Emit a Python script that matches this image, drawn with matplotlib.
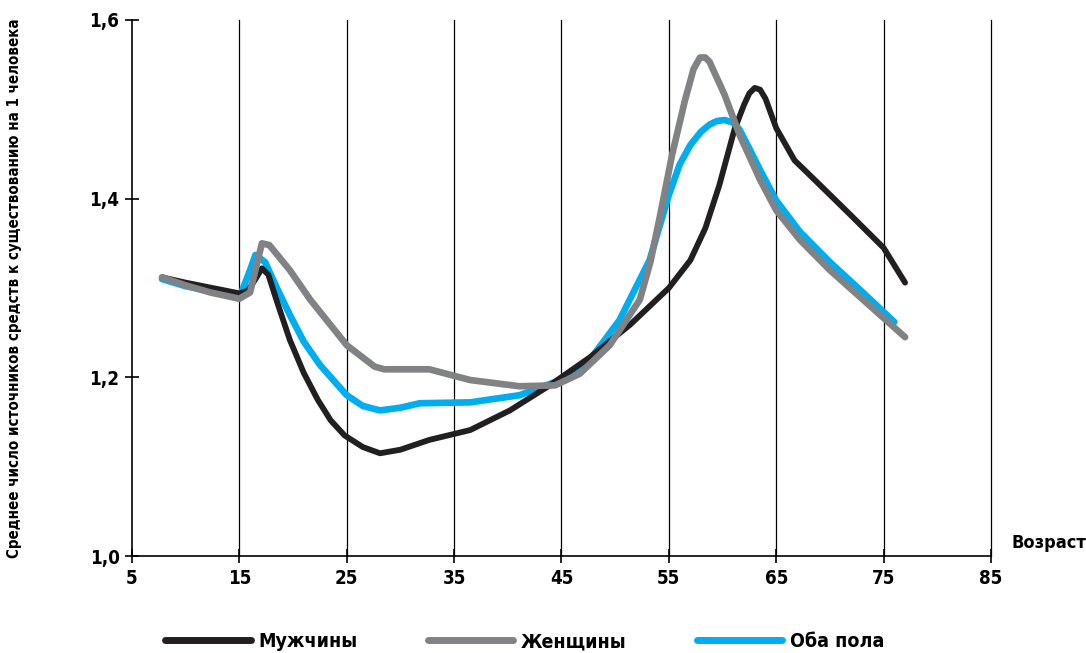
import matplotlib
matplotlib.use("Agg")
import matplotlib.pyplot as plt
from matplotlib.lines import Line2D
from matplotlib.ticker import FuncFormatter

plt.rcParams['font.family'] = ['DejaVu Sans']
plt.rcParams['font.stretch'] = 'condensed'
plt.rcParams['font.weight'] = 'bold'

# data (age, average number of income sources)
men_age = [7.8, 10, 12.5, 15, 15.8, 16.5, 17.1, 17.7, 18.5, 19.7, 21, 22.3, 23.5, 24.8, 26.5,
           28.1, 30, 32.7, 36.5, 40.2, 43.9, 47.6, 51.4, 55, 57, 58.4, 59.7, 61.1, 62, 62.5, 63,
           63.5, 64, 65, 66.7, 69.1, 71.9, 75, 77]
men_val = [1.312, 1.306, 1.30, 1.294, 1.297, 1.310, 1.322, 1.315, 1.285, 1.242, 1.205, 1.175,
           1.152, 1.135, 1.122, 1.115, 1.119, 1.130, 1.141, 1.163, 1.191, 1.222, 1.259, 1.30,
           1.331, 1.367, 1.415, 1.477, 1.505, 1.518, 1.524, 1.522, 1.512, 1.479, 1.443, 1.415,
           1.382, 1.345, 1.306]

women_age = [7.8, 10, 12.3, 15, 16, 16.6, 17.1, 17.8, 19.7, 21.6, 25, 27.6, 28.5, 32.7, 36.5,
             41.1, 44.4, 46.7, 49.5, 52.3, 53.3, 54.2, 55.3, 56.5, 57.3, 57.9, 58.4, 58.8, 60.2,
             61.6, 63.5, 65, 67.2, 70, 72.8, 77]
women_val = [1.312, 1.303, 1.295, 1.288, 1.295, 1.325, 1.350, 1.348, 1.320, 1.287, 1.236, 1.212,
             1.209, 1.209, 1.197, 1.190, 1.191, 1.204, 1.236, 1.287, 1.330, 1.382, 1.449, 1.510,
             1.545, 1.558, 1.558, 1.553, 1.516, 1.471, 1.421, 1.387, 1.354, 1.320, 1.290, 1.245]

both_age = [7.8, 10, 12.5, 15, 16, 16.5, 17.4, 18.5, 19.7, 21, 22.5, 25, 26.5, 28.1, 30, 31.8,
            36.5, 41.1, 44.9, 47.6, 50.4, 53.2, 55, 56, 57, 58, 58.8, 59.5, 60.2, 61, 61.6, 62.5,
            63.5, 65, 67.2, 70, 72.8, 76]
both_val = [1.310, 1.302, 1.296, 1.289, 1.320, 1.337, 1.329, 1.300, 1.270, 1.240, 1.214, 1.180,
            1.168, 1.163, 1.166, 1.171, 1.172, 1.180, 1.197, 1.219, 1.264, 1.331, 1.404, 1.438,
            1.460, 1.475, 1.483, 1.487, 1.488, 1.485, 1.477, 1.456, 1.432, 1.398, 1.363, 1.329,
            1.298, 1.262]

labels = ['Мужчины', 'Женщины', 'Оба пола']
colors = ['#231f20', '#808285', '#00aeef']
xticks = [5, 15, 25, 35, 45, 55, 65, 75, 85]
yticks = [1.0, 1.2, 1.4, 1.6]

fig = plt.figure(figsize=(10.86, 6.53), dpi=100)
ax = fig.add_axes([0.1215, 0.1485, 0.791, 0.8209])

for x in xticks[1:]:
    ax.axvline(x, color='black', lw=0.9, zorder=1, clip_on=False)

kw = dict(solid_capstyle='round', solid_joinstyle='round')
ax.plot(both_age, both_val, color=colors[2], lw=4.8, zorder=3, **kw)
ax.plot(men_age, men_val, color=colors[0], lw=4.2, zorder=4, **kw)
ax.plot(women_age, women_val, color=colors[1], lw=4.8, zorder=5, **kw)

ax.set_xlim(5, 85)
ax.set_ylim(1.0, 1.6)
ax.set_xticks(xticks)
ax.set_yticks(yticks)
ax.yaxis.set_major_formatter(FuncFormatter(lambda v, p: f'{v:.1f}'.replace('.', ',')))
ax.tick_params(direction='inout', length=10, width=1.2, labelsize=13.5, pad=4)
for s in ['top', 'right']:
    ax.spines[s].set_visible(False)
ax.spines['left'].set_linewidth(1.2)
ax.spines['bottom'].set_linewidth(1.2)

ax.set_ylabel('Среднее число источников средств к существованию на 1 человека',
              fontsize=10.8, fontweight='bold')
ax.yaxis.set_label_coords(-0.128, 0.5)
fig.text(0.931, 0.168, 'Возраст', fontsize=13, fontweight='bold', ha='left', va='center')

# legend below the chart
handles = [Line2D([], [], color=c, lw=5, solid_capstyle='round') for c in colors]
fig.legend(handles, labels, loc='lower left', bbox_to_anchor=(0.136, -0.024), ncol=3,
           frameon=False, fontsize=14, handlelength=4.4, handletextpad=0.4,
           columnspacing=3.6)

fig.savefig('out.png', dpi=100)
